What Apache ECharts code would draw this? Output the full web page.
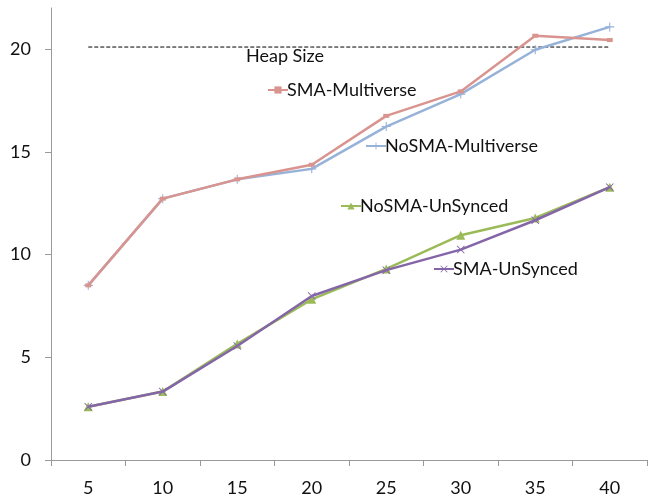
<!DOCTYPE html>
<html><head><meta charset="utf-8">
<script src="https://cdn.jsdelivr.net/npm/echarts@6/dist/echarts.min.js"></script>
<style>html,body{margin:0;padding:0;background:#fff}#c{width:660px;height:504px}</style>
</head><body><div id="c"></div>
<script>
const categories = ['5', '10', '15', '20', '25', '30', '35', '40'];
const smaMultiverse = [8.5, 12.72, 13.66, 14.37, 16.75, 17.94, 20.65, 20.44];
const nosmaMultiverse = [8.5, 12.72, 13.66, 14.17, 16.23, 17.81, 19.97, 21.08];
const nosmaUnsynced = [2.59, 3.33, 5.65, 7.82, 9.3, 10.94, 11.78, 13.28];
const smaUnsynced = [2.59, 3.33, 5.55, 7.98, 9.24, 10.24, 11.67, 13.28];
const heapSize = [20.1, 20.1, 20.1, 20.1, 20.1, 20.1, 20.1, 20.1];
const yTicks = [0, 5, 10, 15, 20];

const FONT = 'Lato';
const C_PINK = '#d9948f', C_BLUE = '#97b2d8', C_GREEN = '#9bbb59', C_PURPLE = '#8466a8';
const PLUS = 'path://M0,4.4H10V5.6H0Z M4.4,0H5.6V10H4.4Z';
const CROSS = 'path://M0,0.8L0.8,0L5,4.2L9.2,0L10,0.8L5.8,5L10,9.2L9.2,10L5,5.8L0.8,10L0,9.2L4.2,5Z';

function mkLegend(name, left, top) {
  return {
    data: [name], left: left, top: top, itemWidth: 20, itemHeight: 9,
    padding: 0, selectedMode: false,
    textStyle: { fontFamily: FONT, fontSize: 18, color: '#111', padding: [0, 0, 0, -6] }
  };
}

const chart = echarts.init(document.getElementById('c'), null, { renderer: 'canvas' });
chart.setOption({
  animation: false,
  backgroundColor: '#fff',
  grid: { left: 51, right: 13, top: 8, bottom: 44 },
  legend: [
    mkLegend('SMA-Multiverse', 267, 81),
    mkLegend('NoSMA-Multiverse', 365, 137),
    mkLegend('NoSMA-UnSynced', 340, 197),
    mkLegend('SMA-UnSynced', 433, 260)
  ],
  graphic: [{
    type: 'text', left: 246, top: 47,
    style: { text: 'Heap Size', fontFamily: FONT, fontSize: 18, fill: '#111' }
  }],
  xAxis: {
    type: 'category', data: categories, boundaryGap: true,
    axisLine: { lineStyle: { color: '#999', width: 1 } },
    axisTick: { show: true, length: 6, inside: false, lineStyle: { color: '#999' } },
    axisLabel: { fontFamily: FONT, fontSize: 18, color: '#111', margin: 19 },
    splitLine: { show: false }
  },
  yAxis: {
    type: 'value', min: 0, max: 22, interval: 5,
    axisLine: { show: true, lineStyle: { color: '#999', width: 1 } },
    axisTick: { show: true, length: 6, customValues: yTicks, lineStyle: { color: '#999' } },
    axisLabel: { fontFamily: FONT, fontSize: 18, color: '#111', margin: 20, customValues: yTicks },
    splitLine: { show: false }
  },
  series: [
    { name: 'Heap Size', type: 'line', data: heapSize, symbol: 'none', silent: true,
      lineStyle: { color: '#000', width: 1, type: [4, 2] }, z: 1 },
    { name: 'SMA-Multiverse', type: 'line', data: smaMultiverse, symbol: 'rect', symbolSize: [6, 4],
      color: C_PINK, lineStyle: { width: 2.5, color: C_PINK }, itemStyle: { color: C_PINK }, z: 3 },
    { name: 'NoSMA-Multiverse', type: 'line', data: nosmaMultiverse, symbol: PLUS, symbolSize: 9,
      color: C_BLUE, lineStyle: { width: 2.5, color: C_BLUE }, itemStyle: { color: C_BLUE }, z: 2 },
    { name: 'NoSMA-UnSynced', type: 'line', data: nosmaUnsynced, symbol: 'triangle', symbolSize: 9,
      color: C_GREEN, lineStyle: { width: 2.5, color: C_GREEN }, itemStyle: { color: C_GREEN }, z: 2 },
    { name: 'SMA-UnSynced', type: 'line', data: smaUnsynced, symbol: CROSS, symbolSize: 8,
      color: C_PURPLE, lineStyle: { width: 2.5, color: C_PURPLE }, itemStyle: { color: C_PURPLE }, z: 3 }
  ]
});
</script>
</body></html>
